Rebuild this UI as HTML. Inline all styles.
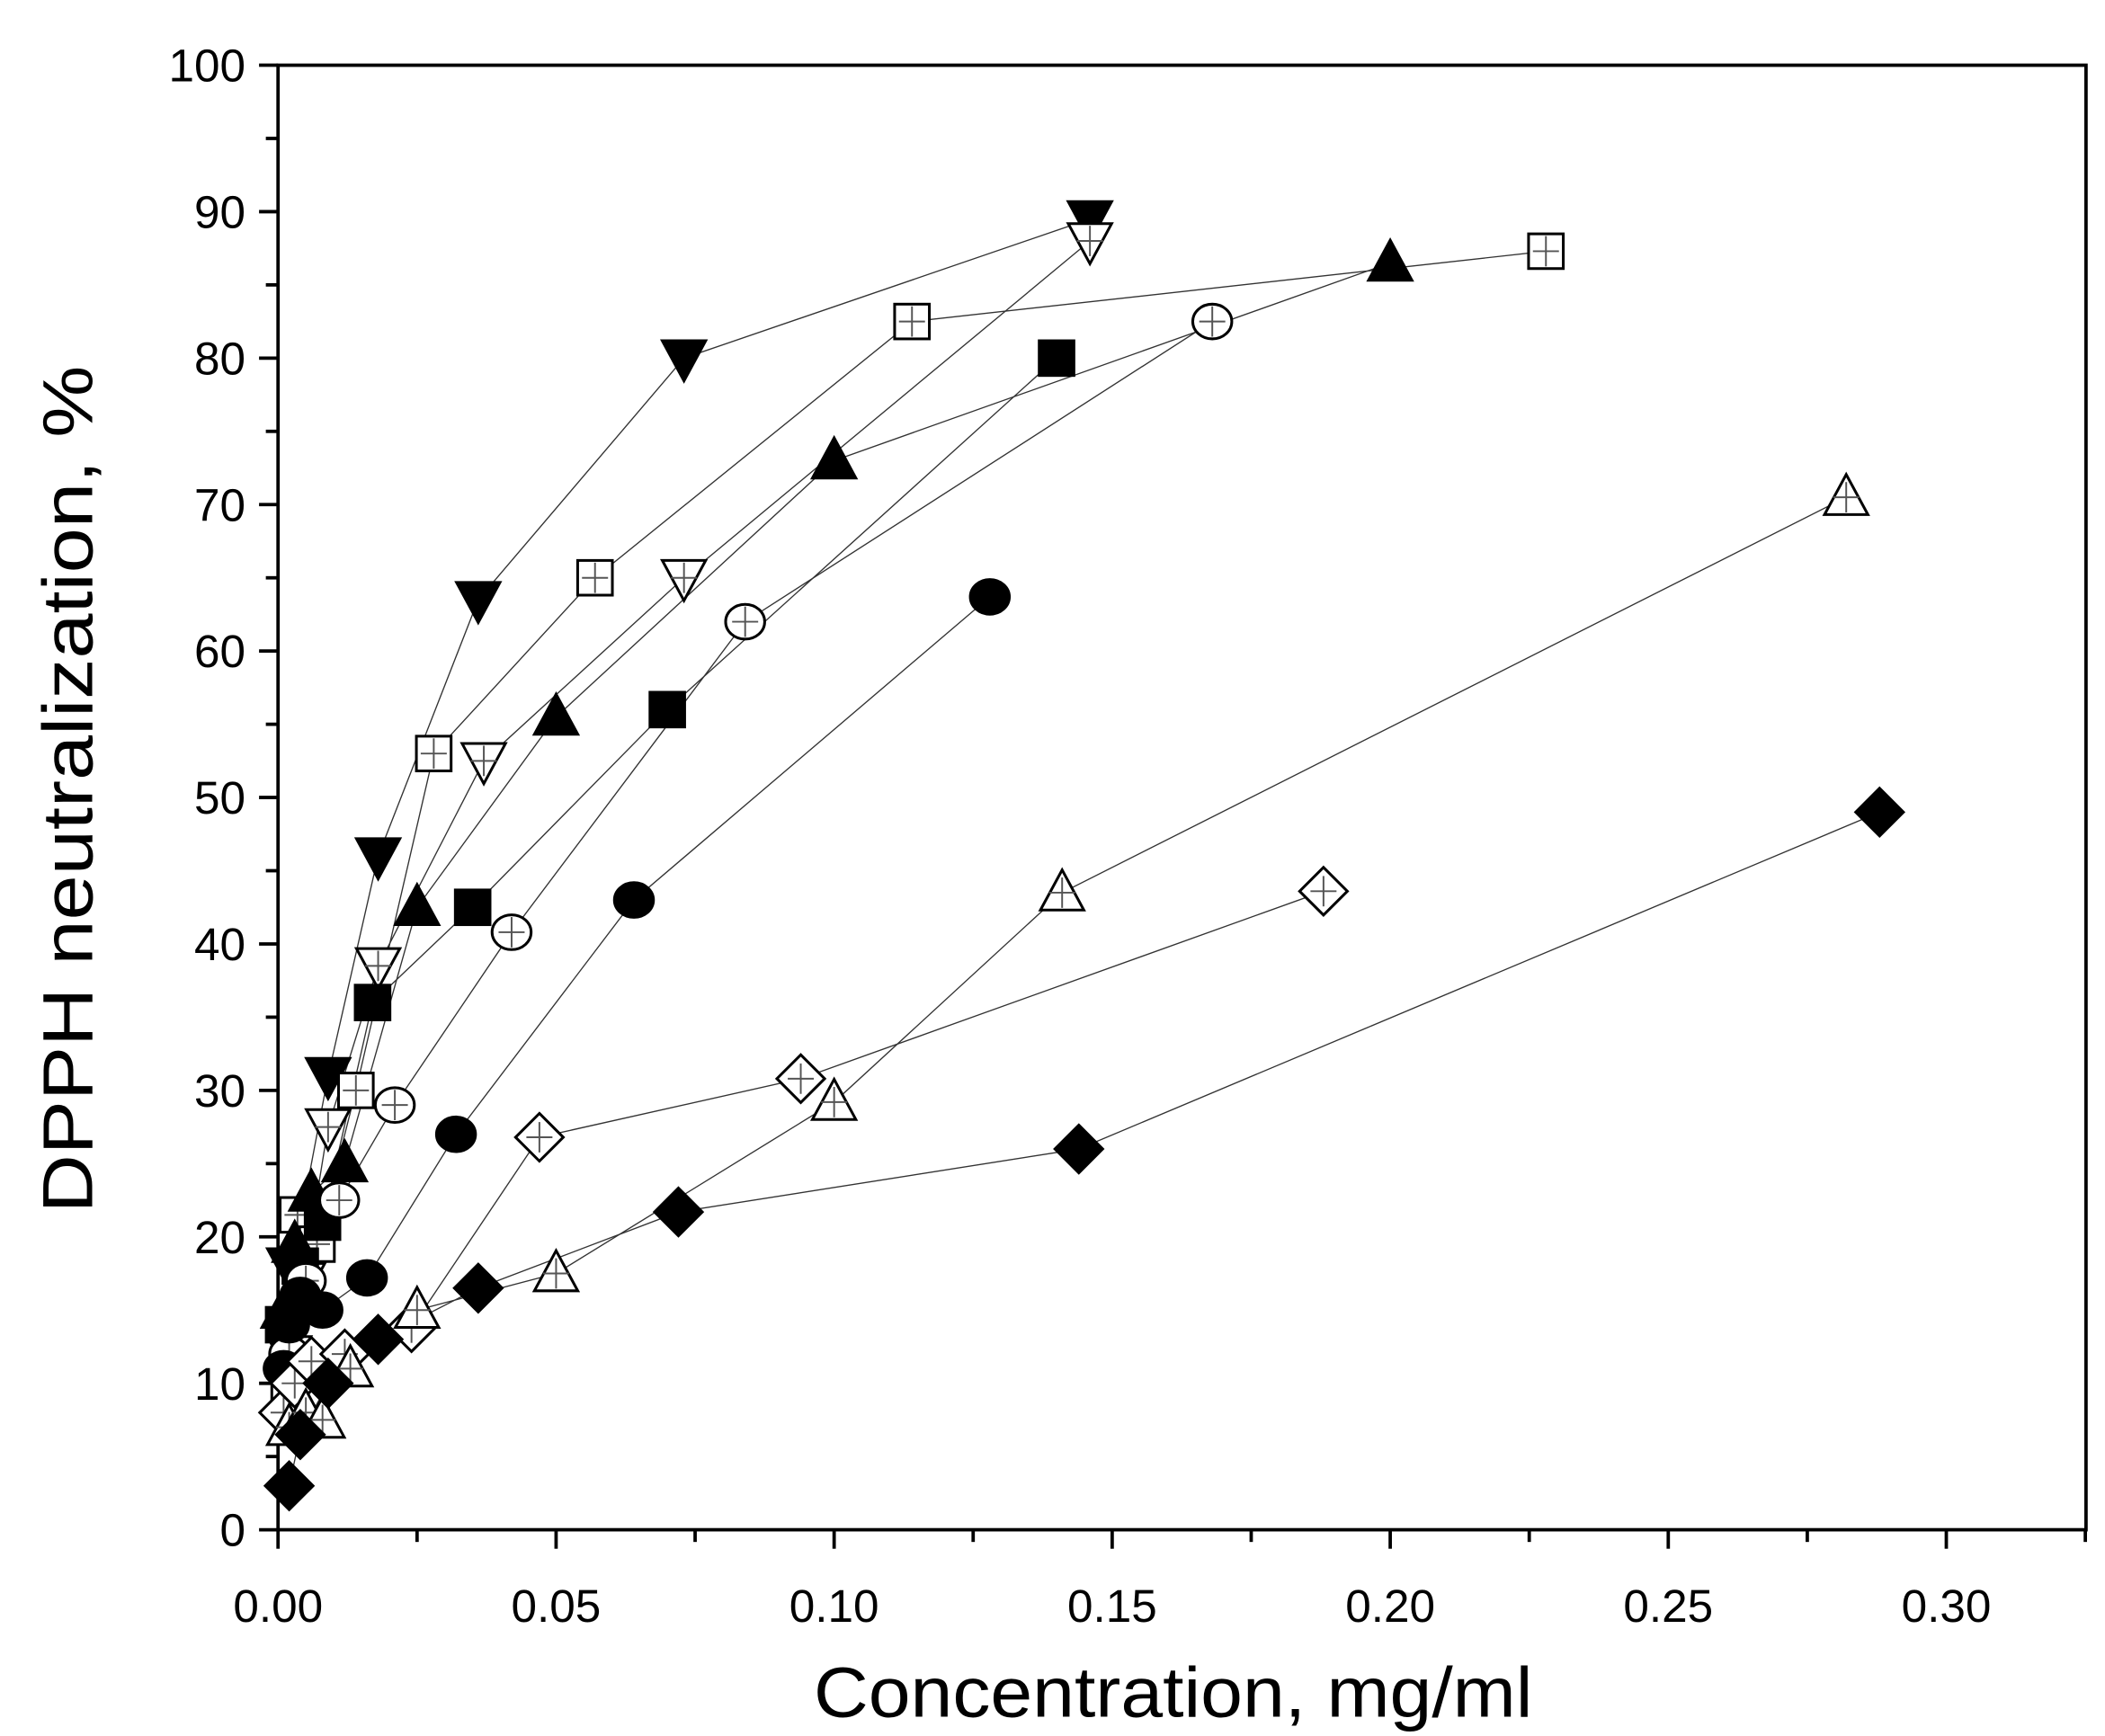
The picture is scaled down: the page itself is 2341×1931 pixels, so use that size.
<!DOCTYPE html>
<html><head><meta charset="utf-8"><style>html,body{margin:0;padding:0;background:#fff}svg{display:block}</style></head>
<body>
<svg id="chart" width="2341" height="1931" viewBox="0 0 1552 1280" xmlns="http://www.w3.org/2000/svg" font-family="Liberation Sans, Arial, sans-serif">
<g id="axes"></g>
<g id="lines"></g>
<g id="marks"></g>
<text x="865" y="1266" font-size="52" text-anchor="middle" textLength="530" lengthAdjust="spacingAndGlyphs">Concentration, mg/ml</text>
<text transform="translate(68,582) rotate(-90)" font-size="52" text-anchor="middle" textLength="625" lengthAdjust="spacingAndGlyphs">DPPH neutralization, %</text>
</svg>
<script>
const xTicks = [0, 0.05, 0.10, 0.15, 0.20, 0.25, 0.30];
const xTickLabels = ["0.00","0.05","0.10","0.15","0.20","0.25","0.30"];
const yTicks = [0,10,20,30,40,50,60,70,80,90,100];
const seriesNames = ["filled-down-triangle","open-square","filled-up-triangle","open-down-triangle","filled-square","open-circle","filled-circle","open-diamond","open-up-triangle","filled-diamond"];
const xs1 = [0.002,0.004,0.009,0.018,0.036,0.073,0.146];
const ys1 = [18,21,31,46,63.5,80,89.5];
const xs2 = [0.002,0.0035,0.007,0.014,0.028,0.057,0.114,0.228];
const ys2 = [9,21.5,19.5,30,53,65,82.5,87.3];
const xs3 = [0.001,0.003,0.006,0.012,0.025,0.05,0.1,0.2];
const ys3 = [15,19.5,23,25,42.5,55.5,73,86.5];
const xs4 = [0.002,0.0045,0.009,0.018,0.037,0.073,0.146];
const ys4 = [12,17,27.5,38.5,52.5,65,88];
const xs5 = [0.001,0.004,0.008,0.017,0.035,0.07,0.14];
const ys5 = [14,18,21,36,42.5,56,80];
const xs6 = [0.002,0.005,0.011,0.021,0.042,0.084,0.168];
const ys6 = [12,17,22.5,29,40.8,62,82.5];
const xs7 = [0.001,0.002,0.004,0.008,0.016,0.032,0.064,0.128];
const ys7 = [11,14,16,15,17.2,27,43,63.7];
const xs8 = [0.001,0.003,0.006,0.012,0.024,0.047,0.094,0.188];
const ys8 = [8,10,11.5,12,13.8,26.8,30.8,43.6];
const xs9 = [0.002,0.005,0.008,0.013,0.025,0.05,0.1,0.141,0.282];
const ys9 = [7,8,7.5,11,15,17.5,29.2,43.5,70.5];
const xs10 = [0.002,0.004,0.009,0.018,0.036,0.072,0.144,0.288];
const ys10 = [3,6.5,10,13,16.5,21.7,26,49];

const X0=205, XR=1538, Y0=1128, YT=48;
const xScale = v => X0 + v*4100;
const yScale = v => Y0 - v*(Y0-YT)/100;
const NS="http://www.w3.org/2000/svg";
function mk(tag, attrs, parent){const e=document.createElementNS(NS,tag);for(const k in attrs)e.setAttribute(k,attrs[k]);parent.appendChild(e);return e;}
const axes=document.getElementById('axes'), lines=document.getElementById('lines'), marks=document.getElementById('marks');

const frame = mk('rect',{x:X0,y:YT,width:XR-X0,height:Y0-YT,fill:'none',stroke:'#000','stroke-width':2.5},axes);


yTicks.forEach((t,i)=>{
  const y=yScale(t);
  const tk=mk('line',{x1:X0-14,x2:X0,y1:y,y2:y,stroke:'#000','stroke-width':2.5},axes);
  
  
  if(i<yTicks.length-1){const m=mk('line',{x1:X0-9,x2:X0,y1:yScale(t+5),y2:yScale(t+5),stroke:'#000','stroke-width':2.5},axes);
  
  }
  const lb=mk('text',{x:X0-24,y:y+12,'font-size':34,'text-anchor':'end'},axes);
  lb.textContent=String(t);
  
  
});
xTicks.forEach((t,i)=>{
  const x=xScale(t);
  const tk=mk('line',{x1:x,x2:x,y1:Y0,y2:Y0+14,stroke:'#000','stroke-width':2.5},axes);
  
  
  const mx=xScale(t+0.025);
  if(mx<XR){const m=mk('line',{x1:mx,x2:mx,y1:Y0,y2:Y0+9,stroke:'#000','stroke-width':2.5},axes);
  
  }
  const lb=mk('text',{x:x,y:Y0+68,'font-size':34,'text-anchor':'middle'},axes);
  lb.textContent=xTickLabels[i];
  
  
});

const allX=[xs1,xs2,xs3,xs4,xs5,xs6,xs7,xs8,xs9,xs10];
const allY=[ys1,ys2,ys3,ys4,ys5,ys6,ys7,ys8,ys9,ys10];
const R=16;
function marker(type,cx,cy,g){
  const fill = type.startsWith('filled')?'#000':'#fff';
  const open = !type.startsWith('filled');
  let el;
  if(type.includes('down-triangle')) el=mk('polygon',{points:`${cx-R},${cy-R*0.8} ${cx+R},${cy-R*0.8} ${cx},${cy+R*1.05}`},g);
  else if(type.includes('up-triangle')) el=mk('polygon',{points:`${cx-R},${cy+R*0.8} ${cx+R},${cy+R*0.8} ${cx},${cy-R*1.05}`},g);
  else if(type.includes('square')) el=mk('rect',{x:cx-R*0.8,y:cy-R*0.8,width:R*1.6,height:R*1.6},g);
  else if(type.includes('circle')) el=mk('ellipse',{cx:cx,cy:cy,rx:R*0.9,ry:R*0.8},g);
  else el=mk('polygon',{points:`${cx},${cy-R*1.1} ${cx+R*1.1},${cy} ${cx},${cy+R*1.1} ${cx-R*1.1},${cy}`},g);
  el.setAttribute('fill',fill);el.setAttribute('stroke','#000');el.setAttribute('stroke-width',2);
  
  
  if(open){
    mk('line',{x1:cx,x2:cx,y1:cy-R*0.7,y2:cy+R*0.7,stroke:'#555','stroke-width':1.3},g);
    mk('line',{x1:cx-R*0.6,x2:cx+R*0.6,y1:cy,y2:cy,stroke:'#555','stroke-width':1.3},g);
  }
}
seriesNames.forEach((name,s)=>{
  const xs=allX[s], ys=allY[s];
  const pts=xs.map((x,i)=>xScale(x)+','+yScale(ys[i])).join(' ');
  const pl=mk('polyline',{points:pts,fill:'none',stroke:'#333','stroke-width':0.9},lines);
  
  
  xs.forEach((x,i)=>{
    const g=mk('g',{},marks);
    
    
    marker(name,xScale(x),yScale(ys[i]),g);
  });
});
</script>
</body></html>
